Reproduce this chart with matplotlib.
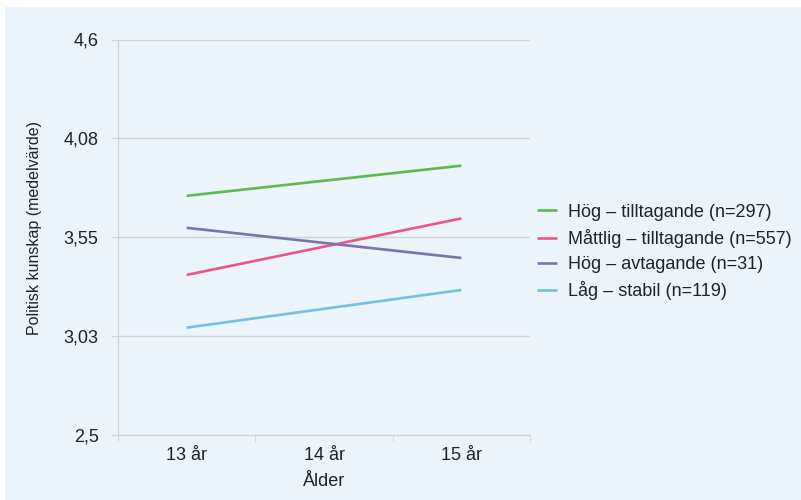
import matplotlib
matplotlib.use("Agg")
import matplotlib.pyplot as plt
from matplotlib.patches import Rectangle
from matplotlib.ticker import FixedLocator

plt.rcParams['font.family'] = ['Liberation Sans', 'DejaVu Sans']

categories = ["13 år", "14 år", "15 år"]
series_names = ["Hög – tilltagande (n=297)",
                "Måttlig – tilltagande (n=557)",
                "Hög – avtagande (n=31)",
                "Låg – stabil (n=119)"]
hog_till = [3.77, 3.85, 3.93]
mattlig_till = [3.35, 3.50, 3.65]
hog_avt = [3.60, 3.52, 3.44]
lag_stabil = [3.07, 3.17, 3.27]
series_values = [hog_till, mattlig_till, hog_avt, lag_stabil]
colors = ["#5cbb4b", "#ee5586", "#7b74ae", "#72bfe9"]
ytick_values = [2.5, 3.025, 3.55, 4.075, 4.6]
ytick_labels = ["2,5", "3,03", "3,55", "4,08", "4,6"]

bg = "#ecf4fc"
W, H = 801, 500
fig = plt.figure(figsize=(W / 100, H / 100), dpi=100)
fig.patch.set_facecolor("white")
fig.patches.append(Rectangle((5 / W, 0), 1 - 5 / W, 1 - 7 / H,
                             transform=fig.transFigure, facecolor=bg,
                             edgecolor="none", zorder=-10))

ax = fig.add_axes([118 / W, 1 - 435 / H, (530 - 118) / W, (435 - 39.5) / H])
ax.set_facecolor(bg)

x = list(range(len(categories)))
for name, vals, c in zip(series_names, series_values, colors):
    ax.plot(x, vals, color=c, lw=1.9, label=name, solid_capstyle="butt")

ax.set_xlim(-0.5, len(categories) - 0.5)
ax.set_ylim(2.5, 4.6)
ax.set_yticks(ytick_values)
ax.set_yticklabels(ytick_labels)
ax.set_xticks(x)
ax.set_xticklabels(categories)
ax.xaxis.set_minor_locator(FixedLocator([-0.5, 0.5, 1.5, 2.5]))

txt = "#222222"
grid_c = "#d3d3d6"
ax.grid(axis="y", color=grid_c, lw=1.0)
ax.set_axisbelow(True)
for s in ["top", "right"]:
    ax.spines[s].set_visible(False)
ax.spines["left"].set_color(grid_c)
ax.spines["bottom"].set_color(grid_c)
ax.tick_params(axis="y", length=5, color=grid_c, pad=9, labelsize=13, labelcolor=txt)
ax.tick_params(axis="x", which="major", length=0, pad=9, labelsize=13, labelcolor=txt)
ax.tick_params(axis="x", which="minor", length=5, color=grid_c)

fig.text(324 / W, 1 - 481 / H, "Ålder", ha="center", va="center",
         fontsize=13, color=txt)
fig.text(35 / W, 1 - 228 / H, "Politisk kunskap (medelvärde)", rotation=90,
         ha="center", va="center", fontsize=11.5, color=txt)

fig.legend(loc="center left", bbox_to_anchor=(537 / W, 1 - 252 / H),
           frameon=False, borderpad=0, borderaxespad=0, fontsize=13,
           handlelength=1.1, handletextpad=0.6, labelspacing=0.45,
           labelcolor=txt)

fig.savefig("out.png", dpi=100, facecolor=fig.get_facecolor())
